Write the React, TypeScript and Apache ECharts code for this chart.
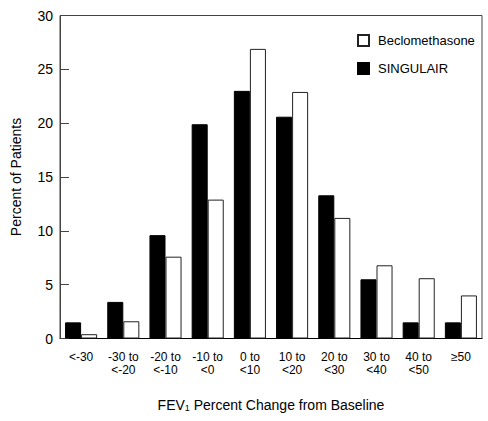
import React, { useEffect, useRef } from "react";
import * as echarts from "echarts";

const categories = ["<-30", "-30 to\n<-20", "-20 to\n<-10", "-10 to\n<0", "0 to\n<10", "10 to\n<20", "20 to\n<30", "30 to\n<40", "40 to\n<50", "≥50"];
const singulair = [1.5, 3.4, 9.6, 19.9, 23.0, 20.6, 13.3, 5.5, 1.5, 1.5];
const beclomethasone = [0.4, 1.6, 7.6, 12.9, 26.9, 22.9, 11.2, 6.8, 5.6, 4.0];
const yTicks = [0, 5, 10, 15, 20, 25, 30];

const FONT = "'Liberation Sans', Arial, Helvetica, sans-serif";

export default function App() {
  const ref = useRef<HTMLDivElement>(null);
  useEffect(() => {
    if (!ref.current) return;
    const chart = echarts.init(ref.current, undefined, { renderer: "svg" });
    chart.setOption({
      animation: false,
      backgroundColor: "#fff",
      textStyle: { fontFamily: FONT },
      grid: {
        left: 60,
        right: 6,
        top: 15.5,
        bottom: 82.5,
        show: true,
        borderColor: "#444",
        borderWidth: 1,
        backgroundColor: "transparent",
      },
      legend: {
        orient: "vertical",
        left: 352,
        top: 29,
        itemWidth: 11,
        itemHeight: 11,
        itemGap: 15,
        icon: "rect",
        data: ["Beclomethasone", "SINGULAIR"],
        textStyle: { fontFamily: FONT, fontSize: 13, color: "#000", padding: [0, 0, 0, 4] },
      },
      xAxis: {
        type: "category",
        data: categories,
        name: "FEV{sub|1} Percent Change from Baseline",
        nameLocation: "middle",
        nameGap: 59,
        nameTextStyle: {
          fontFamily: FONT,
          fontSize: 14,
          color: "#000",
          rich: {
            sub: { fontFamily: FONT, fontSize: 9, color: "#000", verticalAlign: "bottom", padding: [6, 0, 0, 0] },
          },
        },
        axisLine: { show: true, lineStyle: { color: "#000", width: 1 } },
        axisTick: { show: false },
        axisLabel: { fontFamily: FONT, fontSize: 12, color: "#000", lineHeight: 13, margin: 12, interval: 0 },
      },
      yAxis: {
        type: "value",
        min: 0,
        max: 30,
        interval: 5,
        name: "Percent of Patients",
        nameLocation: "middle",
        nameGap: 37,
        nameTextStyle: { fontFamily: FONT, fontSize: 14, color: "#000" },
        axisLine: { show: true, lineStyle: { color: "#444", width: 1 } },
        axisTick: { show: true, inside: true, length: 9, lineStyle: { color: "#444" } },
        axisLabel: {
          fontFamily: FONT,
          fontSize: 14,
          color: "#000",
          margin: 7,
          formatter: (v: number) => (yTicks.includes(v) ? String(v) : ""),
        },
        splitLine: { show: false },
      },
      series: [
        {
          name: "SINGULAIR",
          type: "bar",
          data: singulair,
          barGap: "0%",
          barCategoryGap: "24%",
          itemStyle: { color: "#000", borderColor: "#000", borderWidth: 1 },
        },
        {
          name: "Beclomethasone",
          type: "bar",
          data: beclomethasone,
          barGap: "0%",
          barCategoryGap: "24%",
          itemStyle: { color: "#fff", borderColor: "#222", borderWidth: 1 },
        },
      ],
    });
    return () => chart.dispose();
  }, []);
  return (
    <div
      ref={ref}
      style={{ position: "absolute", left: 0, top: 0, width: 488, height: 421 }}
    />
  );
}
